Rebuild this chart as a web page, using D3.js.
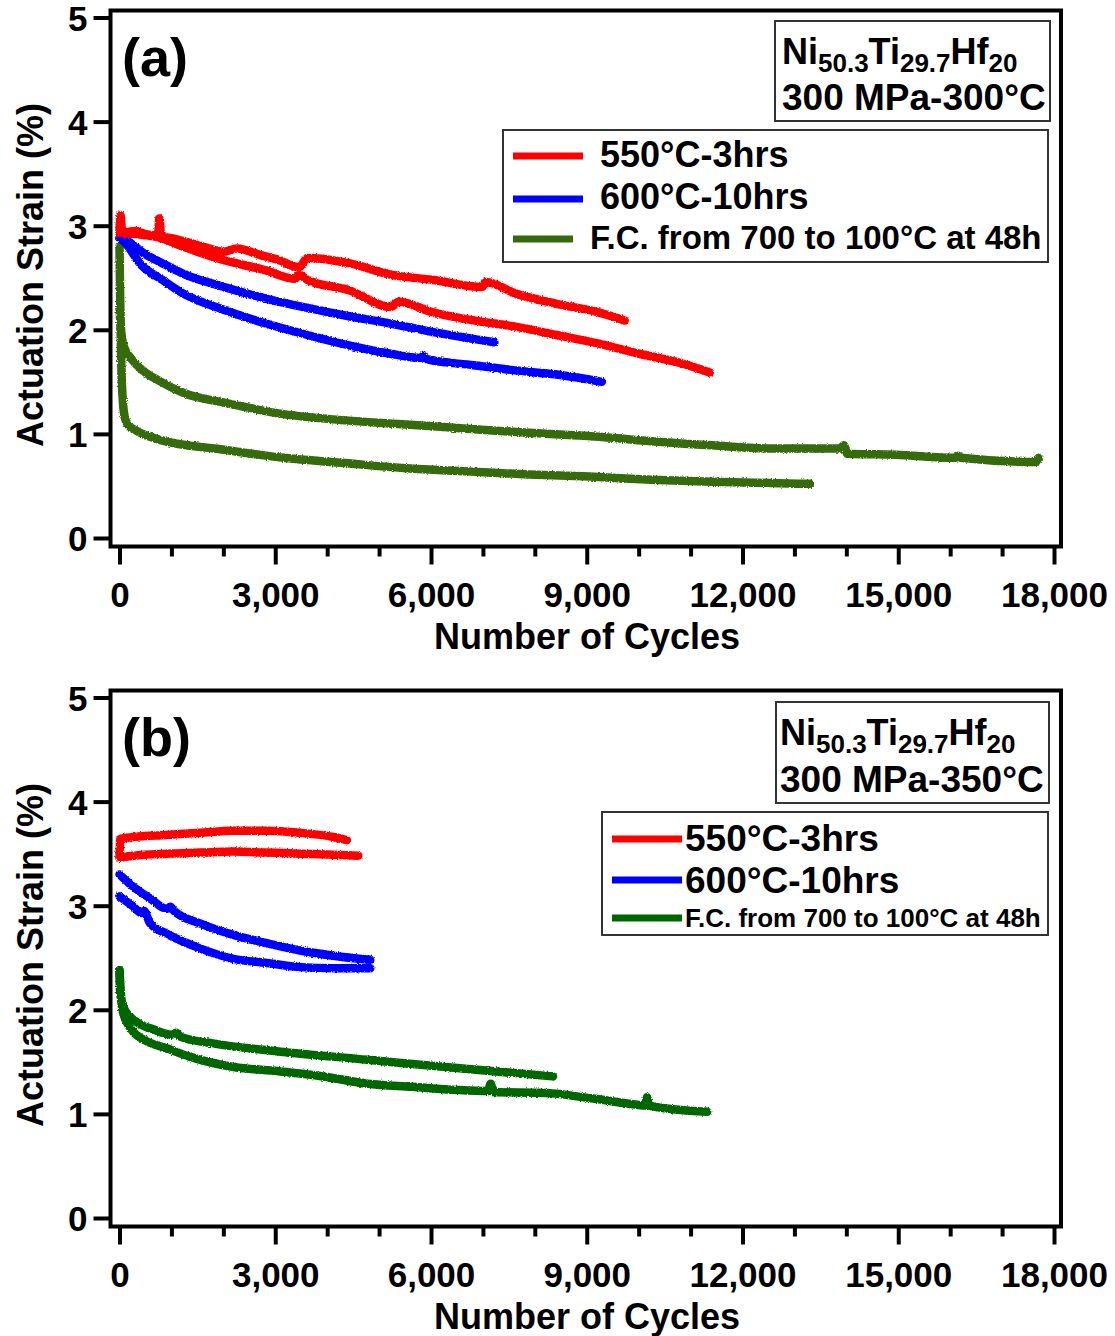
<!DOCTYPE html>
<html>
<head>
<meta charset="utf-8">
<script src="https://cdn.jsdelivr.net/npm/d3@7"></script>
<style>
  body { margin: 0; background: #fff; }
  svg { display: block; }
  text { font-family: "Liberation Sans", Arial, sans-serif; font-weight: bold; fill: #000; }
</style>
</head>
<body>
<svg id="chart" width="1115" height="1336"></svg>
<script>
// ---------- data: [cycles, actuation strain %] ----------
// Panel (a): 300 MPa - 300 °C
const redA1 = [[0,2.95],[20,3.1],[50,2.95],[150,2.94],[300,2.95],[500,2.92],[740,2.9],[770,3.07],[800,2.9],[1000,2.88],[1600,2.8],[2000,2.75],[2260,2.78],[2700,2.72],[3060,2.67],[3460,2.6],[3620,2.69],[4420,2.64],[5220,2.53],[6020,2.48],[6980,2.41],[7060,2.46],[7620,2.35],[8420,2.25],[9210,2.17],[9730,2.09]];
const redA2 = [[0,2.93],[300,2.92],[800,2.88],[1220,2.8],[1860,2.69],[2820,2.57],[3380,2.49],[3460,2.53],[3620,2.48],[4420,2.38],[5220,2.22],[5380,2.27],[6020,2.17],[6820,2.09],[7620,2.03],[8420,1.95],[9210,1.87],[10010,1.77],[10810,1.68],[11370,1.59]];
const blueA1 = [[0,2.88],[100,2.87],[250,2.82],[424,2.75],[822,2.64],[1220,2.54],[2020,2.41],[2820,2.3],[3620,2.21],[4420,2.13],[5220,2.06],[6020,1.98],[7220,1.88]];
const blueA2 = [[0,2.88],[80,2.85],[424,2.62],[822,2.48],[1220,2.35],[2020,2.19],[2820,2.06],[3620,1.95],[4420,1.85],[5220,1.77],[5800,1.73],[5850,1.75],[5900,1.72],[6820,1.66],[7620,1.61],[8420,1.57],[9290,1.5]];
const greenA1 = [[0,2.2],[40,1.95],[100,1.82],[200,1.74],[400,1.63],[800,1.5],[1250,1.39],[2020,1.3],[3160,1.19],[4340,1.13],[5520,1.09],[6700,1.05],[7880,1.01],[9300,0.97],[10240,0.93],[11420,0.89],[12600,0.86],[13880,0.86],[13950,0.89],[14020,0.81],[14950,0.8],[16100,0.77],[16150,0.79],[16200,0.77],[17650,0.73],[17700,0.77]];
const greenA2 = [[0,2.8],[10,2.4],[25,1.9],[45,1.5],[70,1.28],[100,1.16],[160,1.09],[330,1.03],[800,0.94],[1980,0.85],[3160,0.77],[4340,0.72],[5520,0.67],[6700,0.64],[7880,0.61],[9060,0.59],[10240,0.56],[11420,0.54],[13300,0.52]];

// Panel (b): 300 MPa - 350 °C
const redB1 = [[0,3.47],[15,3.64],[100,3.65],[270,3.66],[910,3.68],[1550,3.7],[2190,3.72],[2840,3.72],[3480,3.7],[4120,3.66],[4380,3.63]];
const redB2 = [[0,3.46],[270,3.48],[910,3.5],[1550,3.51],[2190,3.52],[2840,3.51],[3480,3.5],[4120,3.49],[4600,3.48]];
const blueB1 = [[0,3.3],[270,3.18],[590,3.07],[910,2.97],[980,2.99],[1050,2.95],[1550,2.83],[2190,2.72],[2840,2.64],[3480,2.57],[4120,2.52],[4830,2.48]];
const blueB2 = [[0,3.09],[270,2.99],[420,2.93],[470,2.95],[590,2.83],[910,2.73],[1550,2.59],[2190,2.49],[2840,2.45],[3480,2.41],[4120,2.4],[4830,2.4]];
const greenB1 = [[0,2.38],[12,2.16],[100,2.0],[310,1.89],[660,1.81],[1000,1.76],[1090,1.78],[1180,1.74],[1770,1.68],[3060,1.6],[4780,1.52],[6500,1.44],[8350,1.36]];
const greenB2 = [[0,2.38],[55,2.0],[230,1.81],[480,1.71],[910,1.63],[1350,1.55],[2200,1.45],[3060,1.41],[3920,1.36],[4780,1.29],[5640,1.26],[6500,1.23],[7100,1.22],[7150,1.29],[7200,1.21],[8220,1.2],[9080,1.15],[9940,1.09],[10130,1.08],[10160,1.16],[10200,1.08],[11320,1.02]];

// ---------- labels and ticks ----------
const legendLabels = ["550°C-3hrs", "600°C-10hrs", "F.C. from 700 to 100°C at 48h"];
const xMajorTicks = [0, 3000, 6000, 9000, 12000, 15000, 18000];
const xMinorTicks = [1000, 2000, 4000, 5000, 7000, 8000, 10000, 11000, 13000, 14000, 16000, 17000];
const yTicks = [0, 1, 2, 3, 4, 5];
const xTitle = "Number of Cycles";
const yTitle = "Actuation Strain (%)";

const RED = "#ff0000", BLUE = "#0000ff";

const panels = [
  {
    off: 0, tag: "(a)", cond: "300 MPa-300°C",
    series: [[greenA1, "#356a0a"], [greenA2, "#356a0a"], [blueA1, BLUE], [blueA2, BLUE], [redA1, RED], [redA2, RED]],
    legendColors: [RED, BLUE, "#356a0a"],
    legend: { x0: 503, x1: 1048, y0: 130, y1: 262,
      rows: [
        { ly: 156, lx0: 513, lx1: 583, tx: 600, ty: 167, fs: 36 },
        { ly: 199, lx0: 513, lx1: 583, tx: 600, ty: 209, fs: 36 },
        { ly: 239, lx0: 513, lx1: 573, tx: 590, ty: 249, fs: 33 }
      ] },
    info: { x0: 775, x1: 1050, y0: 21, y1: 121, tx: 782, ty1: 64, ty2: 110 }
  },
  {
    off: 680, tag: "(b)", cond: "300 MPa-350°C",
    series: [[greenB1, "#006600"], [greenB2, "#006600"], [blueB1, BLUE], [blueB2, BLUE], [redB1, RED], [redB2, RED]],
    legendColors: [RED, BLUE, "#006600"],
    legend: { x0: 602, x1: 1048, y0: 132, y1: 255,
      rows: [
        { ly: 159, lx0: 612, lx1: 682, tx: 685, ty: 171, fs: 37 },
        { ly: 200, lx0: 612, lx1: 682, tx: 685, ty: 213, fs: 37 },
        { ly: 238, lx0: 612, lx1: 682, tx: 685, ty: 247, fs: 26 }
      ] },
    info: { x0: 776, x1: 1049, y0: 22, y1: 123, tx: 780, ty1: 65, ty2: 112 }
  }
];

const svg = d3.select("#chart");

// slight roughness for the measured traces
const filt = svg.append("defs").append("filter")
  .attr("id", "rough").attr("filterUnits", "userSpaceOnUse")
  .attr("x", 0).attr("y", 0).attr("width", 1115).attr("height", 1336);
filt.append("feTurbulence").attr("type", "fractalNoise").attr("baseFrequency", 0.8)
  .attr("numOctaves", 1).attr("seed", 4).attr("result", "noise");
filt.append("feDisplacementMap").attr("in", "SourceGraphic").attr("in2", "noise")
  .attr("scale", 3.2).attr("xChannelSelector", "R").attr("yChannelSelector", "G");

const x = d3.scaleLinear().domain([0, 18000]).range([119.5, 1054]);
const boxL = 110.5, boxR = 1061;

panels.forEach(p => {
  const g = svg.append("g").attr("transform", `translate(0,${p.off})`);
  const y = d3.scaleLinear().domain([0, 5]).range([538, 17.5]);
  const boxT = 10.5, boxB = 546.5;

  // traces
  const line = d3.line().x(d => x(d[0])).y(d => y(d[1])).curve(d3.curveMonotoneX);
  const traces = g.append("g").attr("filter", "url(#rough)");
  p.series.forEach(([data, color]) => {
    traces.append("path").datum(data)
      .attr("d", line)
      .attr("fill", "none").attr("stroke", color)
      .attr("stroke-width", 8.5)
      .attr("stroke-linecap", "round").attr("stroke-linejoin", "round");
  });

  // frame
  g.append("rect").attr("x", boxL).attr("y", boxT)
    .attr("width", boxR - boxL).attr("height", boxB - boxT)
    .attr("fill", "none").attr("stroke", "#000").attr("stroke-width", 4);

  // y axis
  const yAxis = g.append("g").attr("transform", `translate(${boxL},0)`)
    .call(d3.axisLeft(y).tickValues(yTicks).tickSize(17).tickPadding(6).tickFormat(d3.format("d")));
  yAxis.select(".domain").remove();
  yAxis.selectAll(".tick line").attr("stroke", "#000").attr("stroke-width", 4);
  yAxis.selectAll(".tick text").attr("font-size", 35).attr("font-family", null).attr("dy", "0.36em");

  // x axis: major ticks with labels, minor ticks without
  const xAxis = g.append("g").attr("transform", `translate(0,${boxB})`)
    .call(d3.axisBottom(x).tickValues(xMajorTicks).tickSize(18).tickPadding(18).tickFormat(d3.format(",")));
  xAxis.select(".domain").remove();
  xAxis.selectAll(".tick line").attr("stroke", "#000").attr("stroke-width", 4);
  xAxis.selectAll(".tick text").attr("font-size", 35).attr("font-family", null);

  const xMinor = g.append("g").attr("transform", `translate(0,${boxB})`)
    .call(d3.axisBottom(x).tickValues(xMinorTicks).tickSize(10).tickFormat(""));
  xMinor.select(".domain").remove();
  xMinor.selectAll(".tick line").attr("stroke", "#000").attr("stroke-width", 4);

  // axis titles
  g.append("text").attr("x", 587).attr("y", 649).attr("text-anchor", "middle")
    .attr("font-size", 36).text(xTitle);
  g.append("text").attr("transform", "translate(43,275) rotate(-90)")
    .attr("text-anchor", "middle").attr("font-size", 36).text(yTitle);

  // panel tag
  g.append("text").attr("x", 122).attr("y", 76).attr("font-size", 54).text(p.tag);

  // composition / test condition box
  const inf = p.info;
  g.append("rect").attr("x", inf.x0).attr("y", inf.y0)
    .attr("width", inf.x1 - inf.x0).attr("height", inf.y1 - inf.y0)
    .attr("fill", "#fff").attr("stroke", "#333").attr("stroke-width", 2);
  const comp = g.append("text").attr("x", inf.tx).attr("y", inf.ty1).attr("font-size", 36);
  [["Ni", false], ["50.3", true], ["Ti", false], ["29.7", true], ["Hf", false], ["20", true]].forEach(([s, sub]) => {
    comp.append("tspan").attr("font-size", sub ? 26 : 36)
      .attr("dy", sub ? 8 : -8).text(s);
  });
  comp.select("tspan").attr("dy", 0);
  g.append("text").attr("x", inf.tx).attr("y", inf.ty2).attr("font-size", 37).text(p.cond);

  // legend
  const lg = p.legend;
  g.append("rect").attr("x", lg.x0).attr("y", lg.y0)
    .attr("width", lg.x1 - lg.x0).attr("height", lg.y1 - lg.y0)
    .attr("fill", "#fff").attr("stroke", "#333").attr("stroke-width", 2);
  lg.rows.forEach((r, i) => {
    g.append("line").attr("x1", r.lx0).attr("x2", r.lx1).attr("y1", r.ly).attr("y2", r.ly)
      .attr("stroke", p.legendColors[i]).attr("stroke-width", 7);
    g.append("text").attr("x", r.tx).attr("y", r.ty).attr("font-size", r.fs).text(legendLabels[i]);
  });
});
</script>
</body>
</html>
